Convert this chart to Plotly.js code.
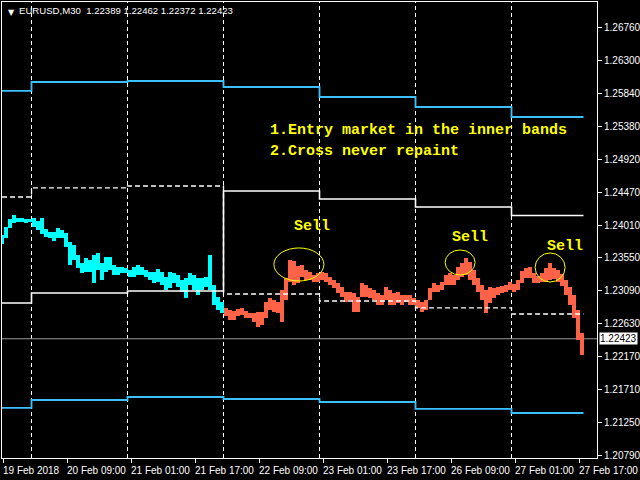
<!DOCTYPE html>
<html>
<head>
<meta charset="utf-8">
<script src="https://cdn.plot.ly/plotly-3.0.1.min.js"></script>
<style>
html,body{margin:0;padding:0;background:#000;}
#chart{width:640px;height:480px;}
</style>
</head>
<body>
<div id="chart"></div>
<script>
// Hourly high / low of EURUSD (M30 chart, two bars per slot), 19 Feb 17:00 -> 27 Feb 18:00
const high = [
1.23871,1.23982,1.24094,1.24150,1.24108,1.24108,1.24094,1.24094,1.24108,1.24066,
1.24108,1.23955,1.23913,1.23913,1.23969,1.23941,1.23899,1.23773,1.23731,1.23592,
1.23480,1.23550,1.23522,1.23592,1.23620,1.23480,1.23564,1.23564,1.23452,1.23424,
1.23424,1.23411,1.23383,1.23424,1.23452,1.23424,1.23383,1.23355,1.23355,1.23397,
1.23355,1.23285,1.23355,1.23341,1.23313,1.23243,1.23271,1.23341,1.23313,1.23271,
1.23271,1.23285,1.23592,1.23173,1.23006,1.22936,1.22853,1.22825,1.22811,1.22839,
1.22853,1.22811,1.22783,1.22783,1.22797,1.22797,1.22936,1.22992,1.22964,1.22936,
1.23104,1.23271,1.23522,1.23508,1.23438,1.23452,1.23383,1.23355,1.23313,1.23341,
1.23355,1.23341,1.23285,1.23243,1.23201,1.23145,1.23076,1.23076,1.23062,1.23006,
1.23201,1.23173,1.23132,1.23104,1.23062,1.23034,1.23145,1.23104,1.23062,1.23076,
1.23034,1.23034,1.23034,1.22992,1.22964,1.22936,1.22964,1.23132,1.23201,1.23173,
1.23215,1.23313,1.23341,1.23313,1.23424,1.23480,1.23550,1.23494,1.23383,1.23271,
1.23173,1.23104,1.23145,1.23132,1.23145,1.23159,1.23173,1.23215,1.23187,1.23243,
1.23369,1.23411,1.23424,1.23341,1.23299,1.23341,1.23411,1.23480,1.23411,1.23383,
1.23327,1.23243,1.23145,1.23034,1.22825,1.22504
];
const low = [
1.23745,1.23829,1.23969,1.24038,1.24052,1.24052,1.24038,1.24052,1.23982,1.23941,
1.23885,1.23843,1.23829,1.23787,1.23829,1.23829,1.23703,1.23452,1.23522,1.23411,
1.23341,1.23355,1.23355,1.23201,1.23383,1.23243,1.23355,1.23383,1.23313,1.23313,
1.23341,1.23341,1.23285,1.23285,1.23313,1.23313,1.23285,1.23243,1.23201,1.23215,
1.23173,1.23104,1.23132,1.23201,1.23145,1.23076,1.22992,1.23173,1.23104,1.23034,
1.23104,1.23145,1.23104,1.22894,1.22825,1.22783,1.22741,1.22685,1.22685,1.22741,
1.22755,1.22713,1.22713,1.22657,1.22588,1.22616,1.22713,1.22825,1.22797,1.22783,
1.22657,1.22964,1.23215,1.23173,1.23201,1.23285,1.23243,1.23243,1.23215,1.23215,
1.23243,1.23215,1.23173,1.23132,1.23062,1.23006,1.22936,1.22964,1.22797,1.22797,
1.23006,1.23006,1.22992,1.22964,1.22894,1.22894,1.22964,1.22894,1.22894,1.22922,
1.22894,1.22936,1.22894,1.22894,1.22853,1.22797,1.22825,1.22964,1.23076,1.23076,
1.23104,1.23173,1.23173,1.23173,1.23243,1.23285,1.23313,1.23243,1.23173,1.23076,
1.22964,1.22783,1.22922,1.22992,1.23034,1.23062,1.23076,1.23104,1.23076,1.23104,
1.23201,1.23271,1.23271,1.23201,1.23201,1.23215,1.23215,1.23243,1.23257,1.23215,
1.23159,1.23034,1.22894,1.22713,1.22409,1.22196
];
const bearStart = 56;            // first hourly slot of 22 Feb (colour change)

// daily band levels (7 trading days)
const dayStartHour = [-0.375, 7, 31, 55, 79, 103, 127, 145];
const outerUpper = [1.25880,1.26005,1.26019,1.25935,1.25796,1.25656,1.25517];
const innerUpper = [1.24401,1.24527,1.24554,1.24485,1.24373,1.24261,1.24143];
const innerLower = [1.22922,1.23062,1.23090,1.23048,1.22950,1.22853,1.22769];
const outerLower = [1.21458,1.21569,1.21611,1.21583,1.21541,1.21444,1.21388];
const switchDay = 3;

const currentPrice = 1.22423;
const headerText = "EURUSD,M30  1.22389 1.22462 1.22372 1.22423";

const xTickHours = [0,16,32,48,64,80,96,112,128,144];
const xTickLabels = ["19 Feb 2018","20 Feb 09:00","21 Feb 01:00","21 Feb 17:00","22 Feb 09:00",
                     "23 Feb 01:00","23 Feb 17:00","26 Feb 09:00","27 Feb 01:00","27 Feb 17:00"];
const yTickVals = [1.26760,1.26300,1.25840,1.25380,1.24920,1.24470,1.24010,1.23550,1.23090,1.22630,1.22170,1.21710,1.21250,1.20790];

const sellMarks = [
  {x0:67.6, x1:80.1, y0:1.23229, y1:1.23690, tx:77.1, ty:1.23996},
  {x0:110.4, x1:117.9, y0:1.23313, y1:1.23662, tx:116.6, ty:1.23829},
  {x0:132.9, x1:140.4, y0:1.23215, y1:1.23620, tx:140.4, ty:1.23717}
];

// ---------- traces ----------
const slotX = high.map((_, k) => k - 0.5);
function barTrace(from, to, color){
  const xs = slotX.slice(from, to);
  const lo = low.slice(from, to);
  const h = high.slice(from, to).map((v,i) => v - lo[i]);
  return {type:'bar', x:xs, y:h, base:lo, width:1, marker:{color:color, line:{width:0}},
          hoverinfo:'skip', showlegend:false};
}
function stepTrace(vals, color, dash, width){
  return {type:'scatter', mode:'lines', x:dayStartHour, y:vals.concat([vals[vals.length-1]]),
          line:{shape:'hv', color:color, width:width, dash:dash}, hoverinfo:'skip', showlegend:false};
}
const solidInner = innerLower.map((v,i) => i < switchDay ? v : innerUpper[i]);
const dashedInner = innerUpper.map((v,i) => i < switchDay ? v : innerLower[i]);

const traces = [
  stepTrace(outerUpper, '#3CC0FF', 'solid', 1.8),
  stepTrace(outerLower, '#3CC0FF', 'solid', 1.8),
  stepTrace(dashedInner, '#FFFFFF', '5px,3px', 1.3),
  stepTrace(solidInner, '#FFFFFF', 'solid', 1.6),
  barTrace(0, bearStart, '#00FFFF'),
  barTrace(bearStart, high.length, '#FF6347')
];

// ---------- shapes ----------
const shapes = [];
[7,31,55,79,103,127].forEach(h => shapes.push({type:'line', xref:'x', yref:'paper', x0:h, x1:h, y0:0, y1:1,
  line:{color:'#FFFFFF', width:1, dash:'4px,3px'}, layer:'below'}));
shapes.push({type:'line', xref:'paper', yref:'y', x0:0, x1:1, y0:currentPrice, y1:currentPrice,
  line:{color:'#9A9A9A', width:1}, layer:'below'});
sellMarks.forEach(s => shapes.push({type:'circle', xref:'x', yref:'y', x0:s.x0, x1:s.x1, y0:s.y0, y1:s.y1,
  line:{color:'#FFFF00', width:1}}));

// ---------- annotations ----------
const monoFont = {family:'Liberation Mono, DejaVu Sans Mono, monospace', size:15, color:'#FFFF00', weight:700};
const axisFont = {family:'Liberation Sans, Arial', size:10, color:'#FFFFFF'};
const annotations = [
  {xref:'paper', yref:'paper', x:0, y:1, xanchor:'left', yanchor:'top', xshift:4, yshift:-4,
   text:'▼', showarrow:false, font:{family:'DejaVu Sans', size:8, color:'#FFFFFF'}},
  {xref:'paper', yref:'paper', x:0, y:1, xanchor:'left', yanchor:'top', xshift:15, yshift:-1,
   text:headerText, showarrow:false, font:{family:'Liberation Sans, Arial', size:9.6, color:'#FFFFFF'}},
  {xref:'x', yref:'y', x:66.1, y:1.25322, xanchor:'left', yanchor:'middle',
   text:'1.Entry market in the inner bands', showarrow:false, font:monoFont},
  {xref:'x', yref:'y', x:66.1, y:1.25029, xanchor:'left', yanchor:'middle',
   text:'2.Cross never repaint', showarrow:false, font:monoFont},
  {xref:'paper', yref:'y', x:1, y:currentPrice, xanchor:'left', yanchor:'middle', xshift:2,
   text:currentPrice.toFixed(5), showarrow:false, bgcolor:'#FFFFFF', borderpad:0,
   font:{family:'Liberation Sans, Arial', size:10, color:'#000000'}}
];
sellMarks.forEach(s => annotations.push({xref:'x', yref:'y', x:s.tx, y:s.ty, xanchor:'center', yanchor:'middle',
  text:'Sell', showarrow:false, font:monoFont}));
xTickHours.forEach((h,i) => annotations.push({xref:'x', yref:'paper', x:h, y:0, xanchor:'left', yanchor:'top',
  xshift:-3, yshift:-5, text:xTickLabels[i], showarrow:false, font:axisFont}));

const layout = {
  width:640, height:480,
  margin:{l:2, r:43, t:2, b:22, pad:0},
  paper_bgcolor:'#000000', plot_bgcolor:'#000000',
  showlegend:false, hovermode:false, barmode:'overlay', bargap:0,
  xaxis:{type:'linear', range:[-0.375, 148.375], showgrid:false, zeroline:false,
         showline:true, mirror:true, linecolor:'#FFFFFF', linewidth:1,
         tickmode:'array', tickvals:xTickHours, showticklabels:false,
         ticks:'outside', ticklen:4, tickcolor:'#FFFFFF', tickwidth:1},
  yaxis:{type:'linear', range:[1.20760, 1.27121], side:'right', showgrid:false, zeroline:false,
         showline:true, mirror:true, linecolor:'#FFFFFF', linewidth:1,
         tickmode:'array', tickvals:yTickVals, ticktext:yTickVals.map(v => v.toFixed(5)),
         ticks:'outside', ticklen:4, tickcolor:'#FFFFFF', tickwidth:1, tickfont:axisFont},
  shapes:shapes,
  annotations:annotations
};
Plotly.newPlot('chart', traces, layout, {staticPlot:true, displayModeBar:false});
</script>
</body>
</html>
